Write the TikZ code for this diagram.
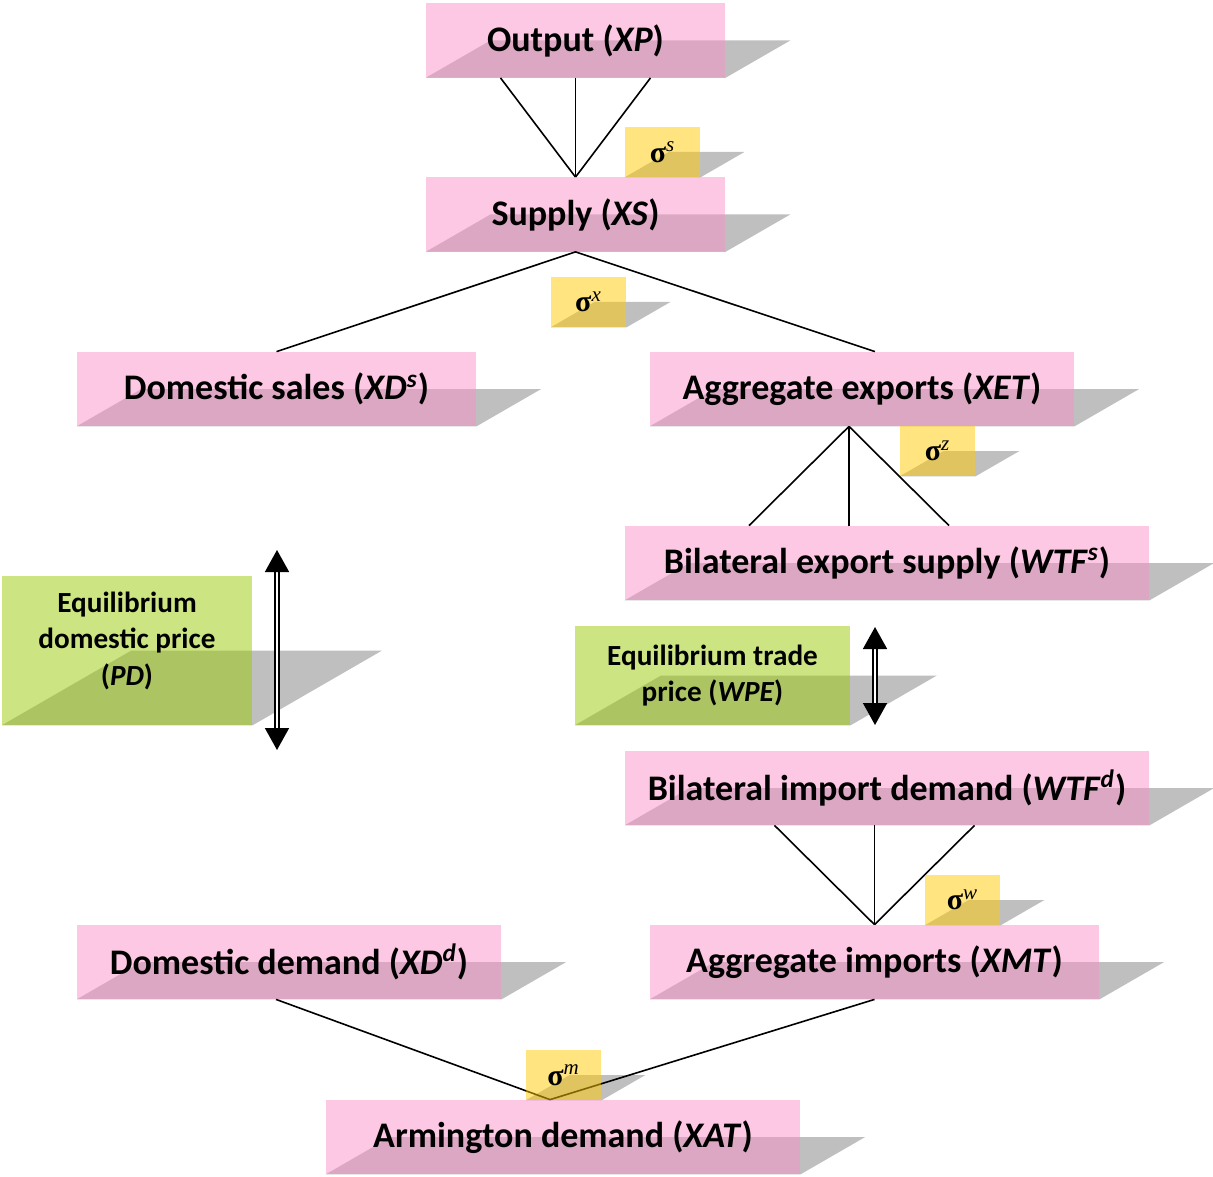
\documentclass[tikz,border=0pt]{standalone}
\usepackage{fontspec}
\setmainfont{Carlito}
\newfontfamily\greekfont{Liberation Serif}
\usetikzlibrary{calc,backgrounds,arrows.meta}

\definecolor{boxpink}{RGB}{249,145,199}
\definecolor{boxgreen}{RGB}{155,201,5}
\definecolor{boxyellow}{RGB}{255,201,1}
\definecolor{shadegray}{RGB}{191,191,191}

% slanted shadow behind a box
\newcommand{\dropshade}[1]{%
  \fill[shadegray] (#1.south west) -- (#1.south east)
    -- ($(#1.east)!1.732!90:(#1.south east)$)
    -- ($(#1.west)!1.732!90:(#1.south west)$) -- cycle;}
\newcommand{\elas}[1]{{\greekfont\bfseries σ}\textsuperscript{\greekfont\itshape #1}}

\begin{document}
\begin{tikzpicture}[
    x=0.5pt,y=-0.5pt,
    box/.style={fill=boxpink,fill opacity=.5,text opacity=1,inner sep=0pt,
      minimum height=37pt,font=\fontsize{18}{21}\selectfont\bfseries},
    pricebox/.style={box,fill=boxgreen,align=center,
      font=\fontsize{14.6}{18.3}\selectfont\bfseries},
    elasbox/.style={box,fill=boxyellow,minimum width=37.5pt,minimum height=25pt,
      font=\fontsize{15}{17}\selectfont},
    link/.style={line width=.8pt},
    pricearrow/.style={double,double distance=1.3pt,line width=.8pt,
      {Triangle[width=12pt,length=11pt]}-{Triangle[width=12pt,length=11pt]}}
]
\useasboundingbox (0,0) rectangle (1213,1176);

\node[box,minimum width=149.5pt] (xp) at (575.5,40.5) {Output (\textit{XP})};
\node[box,minimum width=149.5pt] (xs) at (575.5,214.5) {Supply (\textit{XS})};
\node[box,minimum width=199.5pt] (xds) at (276.5,389) {Domestic sales (\textit{XD}\textsuperscript{\textit{s}})};
\node[box,minimum width=212pt] (xet) at (862,389) {Aggregate exports (\textit{XET})};
\node[box,minimum width=262pt] (wtfs) at (887,563) {Bilateral export supply (\textit{WTF}\textsuperscript{\textit{s}})};
\node[pricebox,minimum width=125pt,minimum height=74.5pt,text depth=12pt] (pd) at (127,650.5) {Equilibrium\\domestic price\\(\textit{PD})};
\node[pricebox,minimum width=137.5pt,minimum height=49.5pt] (wpe) at (712.5,675.5) {Equilibrium trade\\price (\textit{WPE})};
\node[box,minimum width=262pt] (wtfd) at (887,788) {Bilateral import demand (\textit{WTF}\textsuperscript{\textit{d}})};
\node[box,minimum width=212pt] (xdd) at (289,962) {Domestic demand (\textit{XD}\textsuperscript{\textit{d}})};
\node[box,minimum width=224.5pt] (xmt) at (874.5,962) {Aggregate imports (\textit{XMT})};
\node[box,minimum width=237pt] (xat) at (563,1137) {Armington demand (\textit{XAT})};

\node[elasbox] (sigs) at (662.5,152) {\elas{s}};
\node[elasbox] (sigx) at (588.5,302) {\elas{x}};
\node[elasbox] (sigz) at (937.5,451) {\elas{z}};
\node[elasbox] (sigw) at (962.5,900) {\elas{w}};
\node[elasbox] (sigm) at (563.5,1075) {\elas{m}};

\coordinate (xetjoin) at ($(xet.south)+(-13,0)$);
\coordinate (xatjoin) at ($(xat.north)+(-13,0)$);
\coordinate (pdup) at (277,550);
\coordinate (pddown) at (277,750);
\coordinate (wpeup) at (875,627);
\coordinate (wpedown) at (875,725);

\begin{pgfonlayer}{background}
\foreach \n in {xp,xs,xds,xet,wtfs,pd,wpe,wtfd,xdd,xmt,xat,sigs,sigx,sigz,sigw,sigm}
  {\dropshade{\n}}
\foreach \dx in {-75,0,75}
  \draw[link] ($(xs.north |- xp.south)+(\dx,0)$) -- (xs.north);
\draw[link] (xds.north) -- (xs.south) -- ($(xet.north)+(13,0)$);
\foreach \dx in {-100,0,100}
  \draw[link] (xetjoin) -- ($(xetjoin |- wtfs.north)+(\dx,0)$);
\foreach \dx in {-100,0,100}
  \draw[link] ($(xmt.north |- wtfd.south)+(\dx,0)$) -- (xmt.north);
\draw[link] ($(xdd.south)+(-13,0)$) -- (xatjoin) -- (xmt.south);
\end{pgfonlayer}

\draw[pricearrow] (pdup) -- (pddown);
\draw[pricearrow] (wpeup) -- (wpedown);
\end{tikzpicture}
\end{document}
